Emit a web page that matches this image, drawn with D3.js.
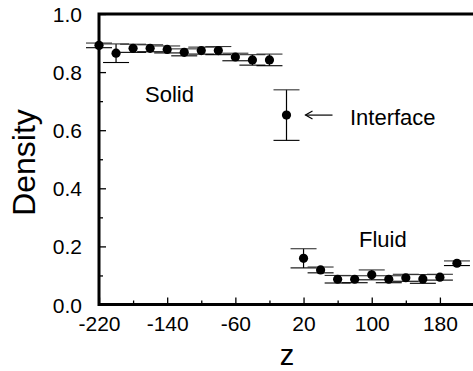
<!DOCTYPE html>
<html>
<head>
<meta charset="utf-8">
<script src="https://cdn.jsdelivr.net/npm/d3@7"></script>
<style>
  html, body { margin: 0; padding: 0; background: #fff; }
  svg { display: block; font-family: "Liberation Sans", Arial, Helvetica, sans-serif; }
</style>
</head>
<body>
<svg id="chart" width="473" height="371"></svg>
<script>
// ---- data ----
const solidZ   = [-220, -200, -180, -160, -140, -120, -100, -80, -60, -40, -20];
const solidD   = [0.892, 0.865, 0.882, 0.882, 0.878, 0.868, 0.874, 0.874, 0.852, 0.842, 0.842];
const solidErr = [0.008, 0.032, 0.014, 0.012, 0.012, 0.012, 0.012, 0.014, 0.013, 0.018, 0.020];

const interfaceZ   = [0];
const interfaceD   = [0.652];
const interfaceErr = [0.087];

const fluidZ   = [20, 40, 60, 80, 100, 120, 140, 160, 180, 200];
const fluidD   = [0.159, 0.119, 0.087, 0.087, 0.102, 0.087, 0.092, 0.088, 0.094, 0.142];
const fluidErr = [0.033, 0.010, 0.013, 0.012, 0.017, 0.012, 0.012, 0.015, 0.010, 0.008];

const xMajorTicks = [-220, -140, -60, 20, 100, 180];
const xMinorTicks = [-180, -100, -20, 60, 140, 220];
const yMajorTicks = [0, 0.2, 0.4, 0.6, 0.8, 1.0];
const yMinorTicks = [0.1, 0.3, 0.5, 0.7, 0.9];

const xTitle = "z";
const yTitle = "Density";
const labels = [
  { text: "Solid", z: -166, d: 0.697 },
  { text: "Fluid", z: 85, d: 0.198 },
  { text: "Interface", z: 74.5, d: 0.619 }
];

// ---- layout ----
const svg = d3.select("#chart");
const pLeft = 99, pRight = 474, pTop = 14, pBottom = 304.5;
const x = d3.scaleLinear().domain([-220, 220]).range([pLeft, pRight]);
const y = d3.scaleLinear().domain([0, 1]).range([pBottom, pTop]);

// minor ticks
svg.append("g").attr("transform", `translate(${pLeft},0)`)
  .call(d3.axisLeft(y).tickValues(yMinorTicks).tickSize(-4).tickFormat(""))
  .call(g => g.select(".domain").remove())
  .call(g => g.selectAll("line").attr("stroke", "#000").attr("stroke-width", 1.3));
svg.append("g").attr("transform", `translate(0,${pBottom})`)
  .call(d3.axisBottom(x).tickValues(xMinorTicks).tickSize(-4).tickFormat(""))
  .call(g => g.select(".domain").remove())
  .call(g => g.selectAll("line").attr("stroke", "#000").attr("stroke-width", 1.3));

// major ticks + labels
svg.append("g").attr("transform", `translate(${pLeft},0)`)
  .call(d3.axisLeft(y).tickValues(yMajorTicks).tickSize(-7).tickPadding(17).tickFormat(d3.format(".1f")))
  .call(g => g.select(".domain").remove())
  .call(g => g.selectAll("line").attr("stroke", "#000").attr("stroke-width", 1.3))
  .call(g => g.selectAll("text").attr("font-size", 21).attr("fill", "#000")
      .attr("font-family", "Liberation Sans, Arial, sans-serif").attr("dy", "0.36em"));

svg.append("g").attr("transform", `translate(0,${pBottom})`)
  .call(d3.axisBottom(x).tickValues(xMajorTicks).tickSize(-7).tickPadding(12).tickFormat(d => String(d)))
  .call(g => g.select(".domain").remove())
  .call(g => g.selectAll("line").attr("stroke", "#000").attr("stroke-width", 1.3))
  .call(g => g.selectAll("text").attr("font-size", 21).attr("fill", "#000")
      .attr("font-family", "Liberation Sans, Arial, sans-serif"));

// frame
svg.append("path")
  .attr("d", `M${pRight},${pTop}H${pLeft}V${pBottom}H${pRight}`)
  .attr("fill", "none").attr("stroke", "#000").attr("stroke-width", 3);

// axis titles
svg.append("text")
  .attr("transform", `translate(35,162.5) rotate(-90)`)
  .attr("text-anchor", "middle")
  .attr("font-size", 32).attr("fill", "#000")
  .text(yTitle);
svg.append("text")
  .attr("x", 287).attr("y", 365)
  .attr("text-anchor", "middle")
  .attr("font-size", 29).attr("fill", "#000")
  .text(xTitle);

// data points with error bars
const capHalf = 13;
function drawSeries(zs, ds, es) {
  const pts = zs.map((z, i) => ({ z, d: ds[i], e: es[i] }));
  const g = svg.append("g");
  const eb = g.selectAll("g.eb").data(pts).join("g");
  eb.append("line")
    .attr("x1", p => x(p.z)).attr("x2", p => x(p.z))
    .attr("y1", p => y(p.d + p.e)).attr("y2", p => y(p.d - p.e))
    .attr("stroke", "#000").attr("stroke-width", 1.2);
  eb.append("line")
    .attr("x1", p => x(p.z) - capHalf).attr("x2", p => x(p.z) + capHalf)
    .attr("y1", p => y(p.d + p.e)).attr("y2", p => y(p.d + p.e))
    .attr("stroke", "#333").attr("stroke-width", 1.1);
  eb.append("line")
    .attr("x1", p => x(p.z) - capHalf).attr("x2", p => x(p.z) + capHalf)
    .attr("y1", p => y(p.d - p.e)).attr("y2", p => y(p.d - p.e))
    .attr("stroke", "#000").attr("stroke-width", 1.1);
  g.selectAll("circle").data(pts).join("circle")
    .attr("cx", p => x(p.z)).attr("cy", p => y(p.d)).attr("r", 4.6)
    .attr("fill", "#000");
}
drawSeries(solidZ, solidD, solidErr);
drawSeries(interfaceZ, interfaceD, interfaceErr);
drawSeries(fluidZ, fluidD, fluidErr);

// annotations
labels.forEach(l => {
  svg.append("text")
    .attr("x", x(l.z)).attr("y", y(l.d))
    .attr("font-size", 22).attr("fill", "#000")
    .text(l.text);
});

// arrow pointing at interface point
const ay = y(interfaceD[0]);
const ax0 = x(interfaceZ[0]) + 19, ax1 = x(interfaceZ[0]) + 46;
svg.append("line")
  .attr("x1", ax0).attr("x2", ax1).attr("y1", ay).attr("y2", ay)
  .attr("stroke", "#000").attr("stroke-width", 1.2);
svg.append("path")
  .attr("d", `M${ax0 + 7},${ay - 4}L${ax0},${ay}L${ax0 + 7},${ay + 4}`)
  .attr("fill", "none").attr("stroke", "#000").attr("stroke-width", 1.2);
</script>
</body>
</html>
